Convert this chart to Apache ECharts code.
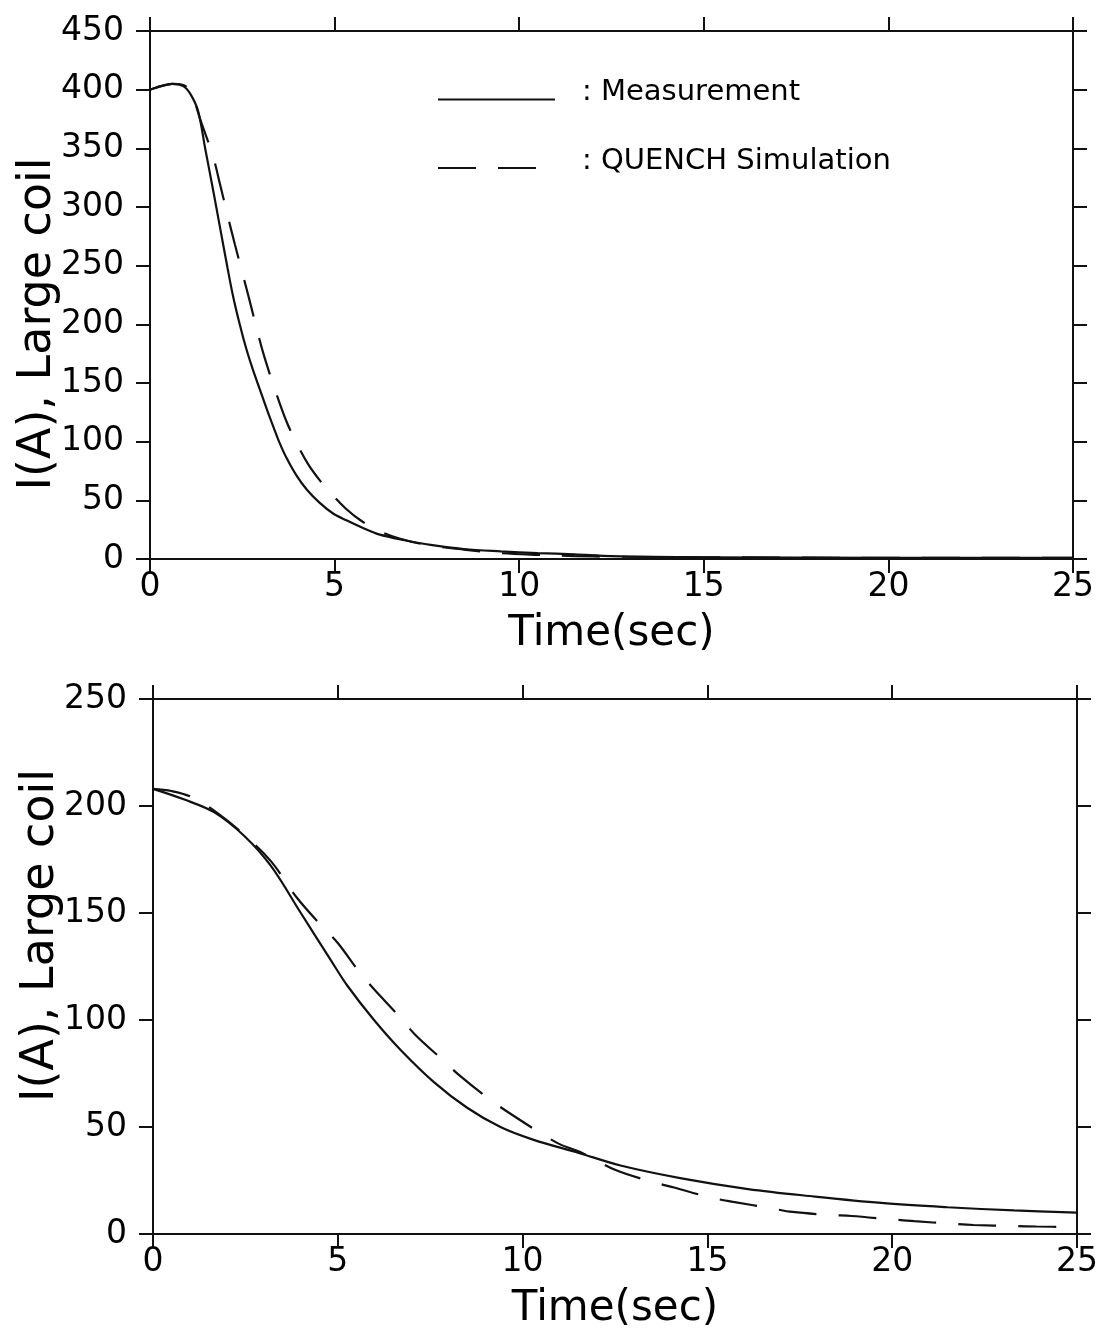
<!DOCTYPE html>
<html>
<head>
<meta charset="utf-8">
<script src="https://cdn.jsdelivr.net/npm/echarts@6/dist/echarts.min.js"></script>
<style>
  html, body { margin: 0; padding: 0; background: #fff; }
  #chart { width: 1101px; height: 1329px; }
</style>
</head>
<body>
<div id="chart"></div>
<script>
// top panel: time (s) and current (A)
const topMeasT = [0, 0.3, 0.6, 0.9, 1.1, 1.3, 1.5, 1.7, 1.9, 2.1, 2.25, 2.43, 2.6, 2.78, 2.97, 3.16, 3.35, 3.51, 3.7, 3.97, 4.25, 4.59, 4.95, 5.32, 5.8, 6.2, 6.9, 7.6, 8.5, 9.5, 10.5, 11.5, 12.5, 15, 20, 25];
const topMeasI = [400, 403, 405, 403, 396, 382, 349, 316, 282, 248, 224, 200, 180, 162, 145, 128, 112, 99, 86, 71, 59, 48, 39, 33, 26, 21, 16, 12, 8.5, 6.5, 5, 4, 2.5, 1.5, 1, 1];
const topSimT = [0, 0.3, 0.6, 0.9, 1.1, 1.4, 1.7, 1.9, 2.1, 2.3, 2.5, 2.7, 2.9, 3.1, 3.4, 3.7, 4.0, 4.3, 4.6, 4.9, 5.3, 5.7, 6.2, 6.8, 7.5, 8.5, 9.5, 10.5, 11.5, 12.5, 15, 20, 25];
const topSimI = [400, 403, 405, 404, 398, 371, 344, 319, 293, 268, 244, 220, 195, 172, 143, 117, 97, 80, 67, 56, 43, 33, 24, 17, 12, 8, 5, 3.5, 2.5, 2, 1.5, 1, 1];

// bottom panel
const botMeasT = [0, 0.85, 1.66, 2.47, 3.19, 4.0, 4.81, 5.26, 5.98, 6.7, 7.6, 8.5, 9.4, 10.3, 11.5, 12.65, 14.3, 16.1, 17.9, 19.7, 21.5, 23.3, 25];
const botMeasI = [208, 203, 197, 186, 172, 150, 128, 116, 100, 86, 71, 59, 50, 44, 38, 32, 26, 21, 17.5, 14.5, 12.5, 11, 10];
const botSimT = [0, 0.5, 1.07, 1.8, 2.5, 3.2, 3.9, 4.56, 5.0, 5.6, 6.0, 6.7, 7.1, 7.86, 8.3, 9.1, 9.6, 10.5, 11.0, 11.6, 12.5, 13.5, 14.1, 15.1, 15.7, 16.7, 17.3, 18.3, 18.9, 20.0, 20.6, 21.6, 22.2, 23.3, 23.9, 25];
const botSimI = [208, 207, 204, 196, 186, 174, 157, 144, 136, 122, 114, 101, 93, 81, 74, 63, 57, 47, 42, 38, 30, 24.4, 21.7, 17, 15, 12.1, 10.3, 8.9, 8.4, 6.8, 6, 4.8, 4.2, 3.7, 3.5, 3.2];

const seriesNames = ['Measurement', 'QUENCH Simulation'];

const pairs = (ts, vs) => ts.map((t, i) => [t, vs[i]]);

const ink = '#111';
const font = 'DejaVu Sans';

function axisBase(extra) {
  return Object.assign({
    type: 'value',
    axisLine: { show: true, onZero: false, lineStyle: { color: ink, width: 2 } },
    axisTick: { show: true, inside: false, length: 14, lineStyle: { color: ink, width: 2 } },
    splitLine: { show: false },
    axisLabel: { color: '#000', fontFamily: font, fontSize: 33 }
  }, extra);
}

function xAxes(gridIndex) {
  return [
    axisBase({
      gridIndex, position: 'bottom', min: 0, max: 25, interval: 5,
      name: 'Time(sec)', nameLocation: 'middle', nameGap: 54,
      nameTextStyle: { color: '#000', fontFamily: font, fontSize: 42 },
      axisLabel: { color: '#000', fontFamily: font, fontSize: 33, margin: 12 }
    }),
    axisBase({
      gridIndex, position: 'top', min: 0, max: 25, interval: 5,
      axisLabel: { show: false }
    })
  ];
}

function yAxes(gridIndex, max, namePad) {
  return [
    axisBase({
      gridIndex, position: 'left', min: 0, max, interval: 50,
      name: 'I(A), Large coil', nameLocation: 'middle', nameGap: 89, nameRotate: 90,
      nameMoveOverlap: false,
      nameTextStyle: { color: '#000', fontFamily: font, fontSize: 46, padding: namePad },
      axisLabel: { color: '#000', fontFamily: font, fontSize: 33, margin: 26 }
    }),
    axisBase({
      gridIndex, position: 'right', min: 0, max, interval: 50,
      axisLabel: { show: false }
    })
  ];
}

function lineSeries(name, data, xi, yi, dashed) {
  return {
    name, type: 'line', data,
    xAxisIndex: xi, yAxisIndex: yi,
    showSymbol: false, symbol: 'none', smooth: 0.35,
    lineStyle: { color: ink, width: 2.2, type: dashed ? [38, 22] : 'solid' },
    itemStyle: { color: ink },
    silent: true
  };
}

const chart = echarts.init(document.getElementById('chart'));

chart.setOption({
  backgroundColor: '#fff',
  animation: false,
  grid: [
    { left: 150, top: 31, width: 923, height: 528, outerBoundsMode: 'none' },
    { left: 153, top: 699, width: 924, height: 535, outerBoundsMode: 'none' }
  ],
  legend: {
    data: seriesNames,
    orient: 'vertical',
    left: 432, top: 73,
    itemWidth: 117, itemHeight: 14, itemGap: 28,
    itemStyle: { opacity: 0 },
    // text sits a little above its line sample, as in the original
    formatter: n => '{t|: ' + n + '}\n{s| }',
    textStyle: {
      color: '#000', fontFamily: font, fontSize: 29, padding: [0, 0, 0, 22],
      rich: {
        t: { fontFamily: font, fontSize: 29, lineHeight: 34, color: '#000' },
        s: { fontSize: 4, lineHeight: 14 }
      }
    }
  },
  xAxis: [...xAxes(0), ...xAxes(1)],
  yAxis: [...yAxes(0, 450, [0, 58, 0, 0]), ...yAxes(1, 250, [0, 0, 0, 62])],
  series: [
    lineSeries(seriesNames[0], pairs(topMeasT, topMeasI), 0, 0, false),
    lineSeries(seriesNames[1], pairs(topSimT, topSimI), 0, 0, true),
    lineSeries(seriesNames[0], pairs(botMeasT, botMeasI), 2, 2, false),
    lineSeries(seriesNames[1], pairs(botSimT, botSimI), 2, 2, true)
  ]
});

window.addEventListener('resize', () => chart.resize());
</script>
</body>
</html>
